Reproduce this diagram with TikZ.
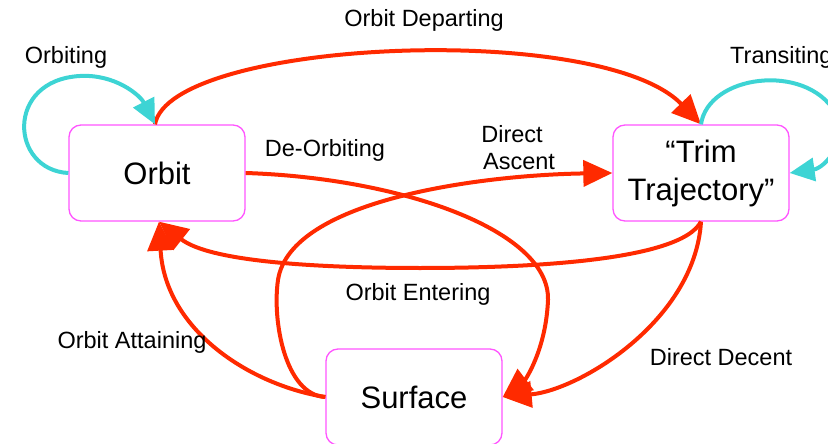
\documentclass[tikz,border=0pt]{standalone}
\usepackage{fontspec}
\setmainfont{Liberation Sans}
\usetikzlibrary{arrows.meta}
\definecolor{edgered}{RGB}{255,42,0}
\definecolor{loopcyan}{RGB}{61,212,212}
\definecolor{boxmag}{RGB}{255,85,255}
\tikzset{
  statebox/.style={draw=boxmag, line width=1.3pt, rounded corners=12pt, fill=white,
    minimum width=176pt, minimum height=96pt, align=center, inner sep=0pt,
    font=\fontsize{31}{38}\selectfont},
  lbl/.style={font=\fontsize{23.5}{27}\selectfont, inner sep=0pt, align=center},
  redarrow/.style={draw=edgered, line width=4pt, -{Triangle[length=29pt,width=26pt]}},
  cyanarrow/.style={draw=loopcyan, line width=4pt, -{Triangle[length=25pt,width=23pt]}}
}
\begin{document}
\begin{tikzpicture}[x=1pt,y=-1pt]
\useasboundingbox (0,0) rectangle (828,444);
\clip (0,0) rectangle (828,444);
% nodes
\node[statebox] (orbit) at (157,173) {Orbit};
\node[statebox] (trim) at (701,173) {\raisebox{-3pt}{“Trim}\\\raisebox{-3pt}{Trajectory”}};
\node[statebox] (surface) at (414,397) {Surface};
% edges
\draw[redarrow] ([xshift=-2pt]orbit.north) .. controls (170,40) and (600,20) .. (trim.north);
\draw[cyanarrow] (orbit.west) .. controls (10,170) and (5,80) .. (80,76) .. controls (115,74) and (140,95) .. ([xshift=-2pt]orbit.north);
\draw[cyanarrow] (trim.north) .. controls (708,75) and (805,62) .. (835,112) .. controls (850,140) and (825,168) .. (trim.east);
\draw[redarrow] (orbit.east) .. controls (400,178) and (550,230) .. (548,300) .. controls (546,350) and (525,380) .. (surface.east);
\draw[redarrow] (surface.west) .. controls (285,395) and (272,320) .. (278,280) .. controls (290,200) and (480,175) .. (trim.west);
\draw[redarrow] (trim.south) .. controls (680,262) and (520,268) .. (420,268) .. controls (320,268) and (210,262) .. ([xshift=2pt]orbit.south);
\draw[redarrow] (surface.west) .. controls (250,385) and (165,330) .. ([xshift=2pt]orbit.south);
\draw[redarrow] (trim.south) .. controls (695,320) and (580,390) .. (surface.east);
% labels
\node[lbl] (lDep) at (424,20) {Orbit Departing};
\node[lbl] (lOrbiting) at (66,57) {Orbiting};
\node[lbl, anchor=west] (lTrans) at (730,57) {Transiting};
\node[lbl] (lDeorb) at (325,150) {De-Orbiting};
\node[lbl] (lAsc) at (512,148) {Direct\\\hspace*{14pt}Ascent};
\node[lbl] (lEnter) at (418,294) {Orbit Entering};
\node[lbl] (lAttain) at (132,342) {Orbit Attaining};
\node[lbl] (lDecent) at (721,357) {Direct Decent};
\end{tikzpicture}
\end{document}
